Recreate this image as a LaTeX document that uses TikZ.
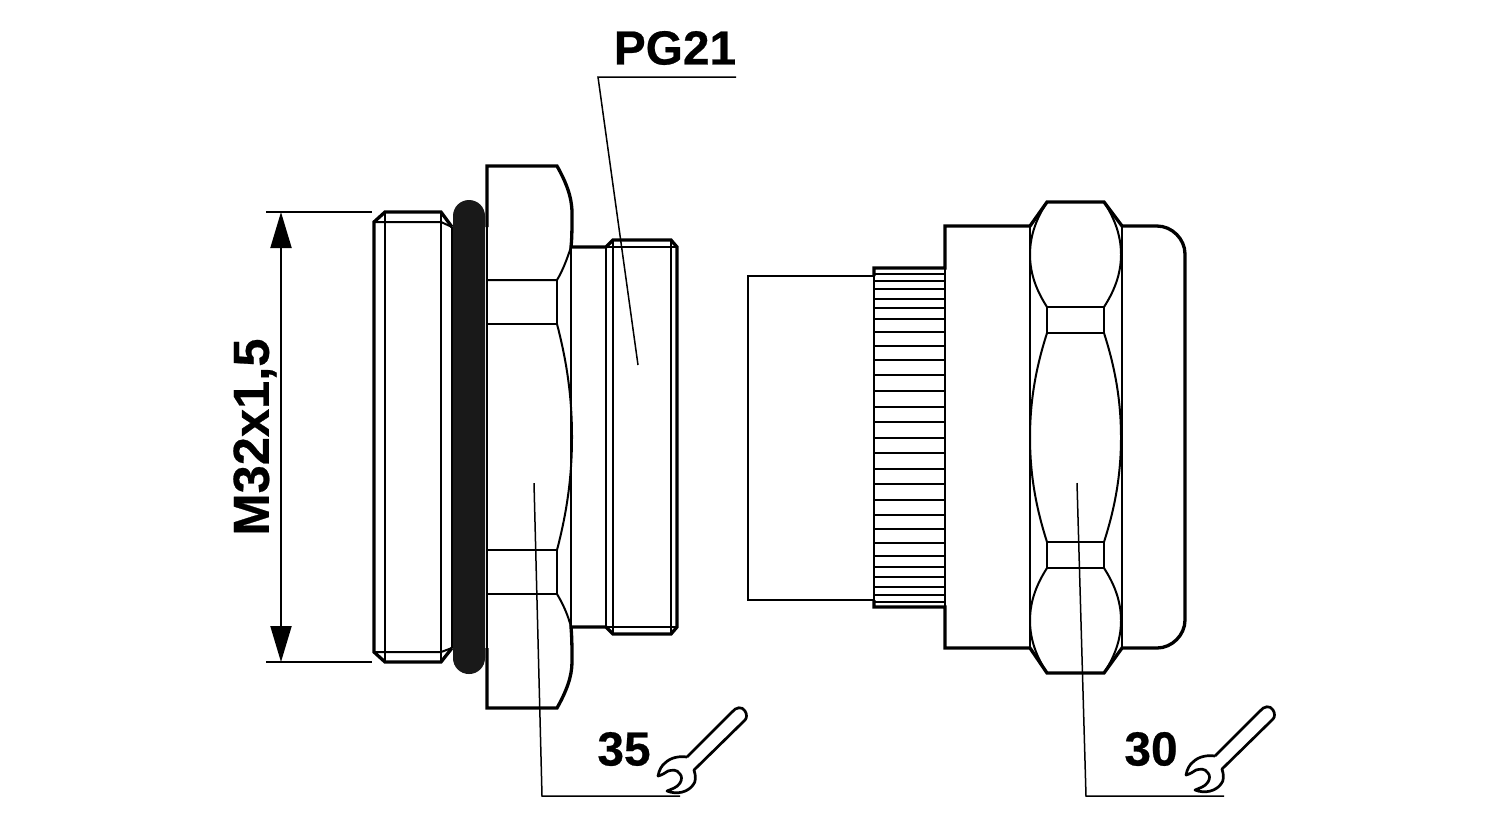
\documentclass[tikz,border=0pt]{standalone}
\usepackage{fontspec}
\setmainfont{Liberation Sans}[BoldFeatures={FakeBold=0.5}]
\usetikzlibrary{arrows.meta}
\tikzset{
	outline/.style={line width=0.33mm, line join=miter},
	inner/.style={line width=0.2mm},
	leader/.style={line width=0.15mm},
	callout/.style={font=\bfseries\fontsize{13.6pt}{14pt}\selectfont, inner sep=0pt},
	pics/wrench/.style={code={
		\draw[line width=0.27mm, line join=round] (687, 757) -- (732, 712) .. controls (736, 707) and (742, 706) .. (745, 711)
			.. controls (747, 714) and (747, 718) .. (745, 720) -- (694, 770)
			.. controls (696, 776) and (696, 782) .. (693, 785) .. controls (688, 792) and (677, 795) .. (667, 791)
			.. controls (671, 789) and (677, 788) .. (680, 783) .. controls (682, 780) and (682, 776) .. (680, 774)
			.. controls (677, 769) and (672, 770) .. (668, 771) .. controls (665, 773) and (662, 775) .. (658, 776)
			.. controls (659, 770) and (662, 765) .. (665, 763) .. controls (671, 757) and (680, 756) .. (687, 757);
	}}
}
\def\bulge(#1,#2)(#3,#4)#5{\draw[inner] (#1, #2) .. controls (#1+#5*0.55, #2+0.14*#4-0.14*#2) and (#1+#5, #2+0.3*#4-0.3*#2) .. (#1+#5, #2*0.5+#4*0.5) .. controls (#1+#5, #2+0.7*#4-0.7*#2) and (#3+#5*0.55, #2+0.86*#4-0.86*#2) .. (#3, #4);}
\begin{document}
\begin{tikzpicture}[x=0.01cm, y=-0.01cm]
	%%%%% START %%%%%
	\useasboundingbox[fill=white] (0, 0) rectangle (1500, 820);

	% dimension
	\draw[leader] (266, 212) -- (372, 212);
	\draw[leader] (266, 662) -- (372, 662);
	\draw[inner, {Triangle[length=0.36cm, width=0.21cm]}-{Triangle[length=0.36cm, width=0.21cm]}] (281, 212) -- (281, 662);
	\node[callout, font=\bfseries\fontsize{14.4pt}{15pt}\selectfont, rotate=90] (m32) at (255, 437) {M32x1,5};

	% left thread
	\draw[outline] (452, 227) -- (441, 212) -- (385, 212) -- (374, 222) -- (374, 652) -- (385, 662) -- (441, 662) -- (452, 648);
	\draw[inner] (374, 222) -- (441, 222) -- (452, 227);
	\draw[inner] (374, 652) -- (441, 652) -- (452, 648);
	\draw[inner] (385, 212) -- (385, 662);
	\draw[inner] (441, 212) -- (441, 662);
	\draw[inner] (452, 227) -- (452, 648);

	% o-ring
	\draw[fill=black!90, draw=none, rounded corners=0.159cm] (453, 200) rectangle (485, 674);

	% hex nut
	\draw[outline] (487, 227) -- (487, 166) -- (557, 166) .. controls (566, 182) and (572, 197) .. (572, 213) .. controls (572, 227) and (572, 238) .. (571, 247) -- (606, 247) -- (613, 240) -- (671, 240) -- (677, 247) -- (677, 627) -- (671, 634) -- (613, 634) -- (606, 627) -- (571, 627) .. controls (572, 638) and (572, 650) .. (572, 662) .. controls (572, 677) and (566, 692) .. (557, 708) -- (487, 708) -- (487, 648);
	\draw[inner] (487, 227) -- (487, 648);
	\draw[inner] (571, 247) .. controls (567, 259) and (563, 270) .. (557, 280) -- (487, 280);
	\draw[inner] (487, 324) -- (557, 324) -- (557, 280);
	\bulge(557, 324)(557, 550){15}
	\draw[inner] (487, 550) -- (557, 550) -- (557, 594) -- (487, 594);
	\draw[inner] (557, 594) .. controls (563, 604) and (568, 615) .. (571, 627);
	\draw[inner] (571, 247) -- (571, 627);
	\draw[inner] (606, 247) -- (606, 627);
	\draw[inner] (613, 240) -- (613, 634);
	\draw[inner] (671, 240) -- (671, 634);
	\draw[inner] (606, 247) -- (677, 247);
	\draw[inner] (606, 627) -- (677, 627);

	% right body
	\draw[inner, line width=0.28mm] (874, 276) -- (748, 276) -- (748, 600) -- (874, 600);
	\draw[outline] (874, 276) -- (874, 268) -- (945, 268) -- (945, 226) -- (1030, 226) -- (1047, 202) -- (1104, 202) -- (1122, 226) -- (1157, 226) .. controls (1172, 226) and (1185, 239) .. (1185, 254) -- (1185, 620) .. controls (1185, 635) and (1172, 648) .. (1157, 648) -- (1122, 648) -- (1104, 673) -- (1047, 673) -- (1030, 648) -- (945, 648) -- (945, 607) -- (874, 607) -- (874, 600);
	\draw[inner] (874, 268) -- (874, 607);
	\draw[inner] (945, 268) -- (945, 607);
	\foreach \y in {274, 281, 289, 299, 308, 319, 332, 346, 360, 375, 391, 407, 422, 438, 453, 469, 484, 500, 515, 529, 543, 556, 567, 577, 587, 595, 602} {
		\draw[inner] (874, \y) -- (945, \y);
	}
	\draw[inner] (1030, 226) -- (1030, 648);
	\draw[inner] (1122, 226) -- (1122, 648);

	% hex faces
	\bulge(1047, 202)(1047, 307){-17}
	\bulge(1104, 202)(1104, 307){17}
	\draw[inner] (1047, 307) rectangle (1104, 333);
	\bulge(1047, 333)(1047, 542){-17}
	\bulge(1104, 333)(1104, 542){17}
	\draw[inner] (1047, 542) rectangle (1104, 568);
	\bulge(1047, 568)(1047, 673){-17}
	\bulge(1104, 568)(1104, 673){17}

	% leaders
	\draw[leader] (736, 77) -- (598, 77) -- (638, 365);
	\draw[leader] (534, 483) -- (542, 796) -- (680, 796);
	\draw[leader] (1077, 483) -- (1086, 796) -- (1224, 796);

	\node[callout] (pg) at (675, 48) {PG21};
	\node[callout] (size35) at (624, 749) {35};
	\node[callout] (size30) at (1151, 749) {30};

	% wrenches
	\pic at (0, 0) {wrench};
	\pic at (528, -1) {wrench};
	%%%%% END %%%%%
\end{tikzpicture}
\end{document}
